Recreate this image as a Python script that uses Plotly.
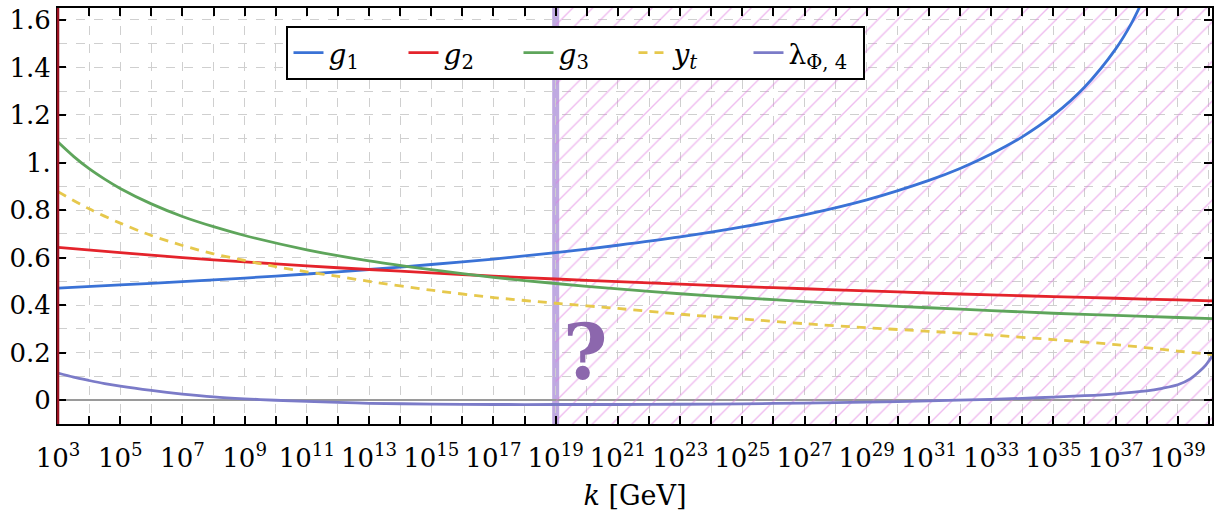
import plotly.graph_objects as go

# ---- data (log10 of k in GeV, coupling values) ----
g1_exp = [3, 5, 7, 9, 11, 13, 15, 17, 19, 21, 23, 25, 27, 29, 31, 32, 33, 34, 35, 36, 37, 37.5, 38]
g1_val = [0.472, 0.485, 0.499, 0.514, 0.531, 0.550, 0.571, 0.594, 0.621, 0.652, 0.687, 0.729, 0.780,
          0.843, 0.925, 0.975, 1.036, 1.108, 1.199, 1.317, 1.477, 1.583, 1.717]

g2_exp = [3, 5, 7, 9, 11, 13, 15, 17, 19, 21, 23, 25, 27, 29, 31, 33, 35, 37, 39, 40.1]
g2_val = [0.643, 0.621, 0.600, 0.582, 0.565, 0.550, 0.536, 0.522, 0.510, 0.499, 0.488, 0.478,
          0.469, 0.460, 0.451, 0.443, 0.436, 0.429, 0.422, 0.418]

g3_exp = [3, 3.5, 4, 4.5, 5, 6, 7, 8, 9, 11, 13, 15, 17, 19, 21, 23, 25, 27, 29, 31, 33, 35, 37, 39, 40.1]
g3_val = [1.086, 1.026, 0.974, 0.930, 0.891, 0.826, 0.773, 0.730, 0.693, 0.633, 0.586, 0.549, 0.517,
          0.491, 0.468, 0.448, 0.431, 0.415, 0.401, 0.389, 0.377, 0.366, 0.357, 0.348, 0.343]

yt_exp = [3, 4, 5, 6, 7, 8, 9, 10, 11, 12, 13, 15, 17, 19, 21, 23, 25, 27, 29, 31, 33, 35, 37, 39, 40.1]
yt_val = [0.877, 0.805, 0.745, 0.693, 0.651, 0.616, 0.588, 0.562, 0.540, 0.521, 0.500, 0.463,
          0.432, 0.408, 0.386, 0.362, 0.342, 0.322, 0.305, 0.290, 0.274, 0.255, 0.234, 0.207, 0.192]

lam_exp = [3, 3.5, 4, 4.5, 5, 6, 7, 8, 9, 10, 11, 12, 13, 15, 17, 19, 21, 23, 25, 27, 29, 31, 33,
           34, 35, 36, 37, 38, 38.5, 39, 39.4, 39.7, 39.9, 40.1]
lam_val = [0.114, 0.097, 0.083, 0.070, 0.059, 0.041, 0.026, 0.014, 0.006, 0.000, -0.005, -0.009,
           -0.013, -0.016, -0.018, -0.018, -0.018, -0.017, -0.015, -0.012, -0.008, -0.003, 0.004,
           0.008, 0.013, 0.019, 0.027, 0.039, 0.050, 0.065, 0.090, 0.122, 0.148, 0.185]

planck_exp = 19
x_range_exp = [3, 40.1]
y_range = [-0.1, 1.65]

x_label_exp = list(range(3, 41, 2))
x_label_text = [f"10<sup>{e}</sup>" for e in x_label_exp]
x_minor_exp = list(range(4, 41, 2))
y_tick_vals = [0, 0.2, 0.4, 0.6, 0.8, 1.0, 1.2, 1.4, 1.6]
y_tick_text = ["0", "0.2", "0.4", "0.6", "0.8", "1.", "1.2", "1.4", "1.6"]

FONT = "DejaVu Serif"


def k(exps):
    return [10.0 ** e for e in exps]


fig = go.Figure()

# hatched region beyond the Planck scale
fig.add_trace(go.Scatter(
    x=k([planck_exp, 41, 41, planck_exp, planck_exp]),
    y=[-0.5, -0.5, 2.0, 2.0, -0.5],
    mode="lines", line=dict(width=0), fill="toself",
    fillcolor="rgba(0,0,0,0)",
    fillpattern=dict(shape="/", fgcolor="#e07ae0", bgcolor="rgba(0,0,0,0)", size=14, solidity=0.1),
    showlegend=False, hoverinfo="skip"))

series = [
    (g1_exp, g1_val, "<i>g</i><sub>1</sub>", "#3a72d6", "solid"),
    (g2_exp, g2_val, "<i>g</i><sub>2</sub>", "#e4232b", "solid"),
    (g3_exp, g3_val, "<i>g</i><sub>3</sub>", "#5ea55b", "solid"),
    (yt_exp, yt_val, "<i>y</i><sub><i>t</i></sub>", "#e6c84c", "9px,7px"),
    (lam_exp, lam_val, "λ<sub>Φ, 4</sub>", "#7b7bc8", "solid"),
]
for ex, val, name, col, dash in series:
    fig.add_trace(go.Scatter(x=k(ex), y=val, mode="lines", name=name,
                             line=dict(color=col, width=2.8, dash=dash, shape="spline", smoothing=0.8)))

# Planck band
fig.add_shape(type="line", xref="x", yref="paper", x0=10 ** planck_exp, x1=10 ** planck_exp,
              y0=0, y1=1, line=dict(color="rgba(170,140,215,0.75)", width=7), layer="between")
# left axis in dark red
fig.add_shape(type="line", xref="paper", yref="paper", x0=0, x1=0, y0=0, y1=1,
              line=dict(color="#9a1020", width=2.5), layer="above")

fig.add_annotation(x=planck_exp + 0.95, y=0.2, xref="x", yref="y", text="<b>?</b>",
                   showarrow=False, font=dict(family=FONT, size=76, color="#8c67ad"),
                   xanchor="center", yanchor="middle")

fig.update_layout(
    width=1222, height=522,
    margin=dict(l=58, r=10, t=5, b=98),
    paper_bgcolor="white", plot_bgcolor="white",
    font=dict(family=FONT, size=26, color="black"),
    legend=dict(orientation="h", x=0.198, y=0.957, xanchor="left", yanchor="top",
                bgcolor="white", bordercolor="black", borderwidth=2,
                font=dict(family=FONT, size=28), entrywidth=70, entrywidthmode="pixels",
                itemwidth=30),
    xaxis=dict(type="log", range=x_range_exp,
               tickvals=k(x_label_exp), ticktext=x_label_text,
               ticks="inside", ticklen=8, tickwidth=2, tickcolor="black",
               showline=True, linecolor="black", linewidth=2, mirror="allticks",
               showgrid=True, gridcolor="#cfcfcf", griddash="dash", gridwidth=1,
               minor=dict(tickvals=k(x_minor_exp), ticks="inside", ticklen=8, tickwidth=2,
                          tickcolor="black", showgrid=True, gridcolor="#cfcfcf",
                          griddash="dash", gridwidth=1),
               tickfont=dict(family=FONT, size=26), ticklabelstandoff=10,
               title=dict(text="<i>k</i> [GeV]", font=dict(family=FONT, size=27), standoff=14)),
    yaxis=dict(range=y_range, tickvals=y_tick_vals, ticktext=y_tick_text,
               ticks="inside", ticklen=8, tickwidth=2, tickcolor="black",
               showline=True, linecolor="black", linewidth=2, mirror="allticks",
               showgrid=True, gridcolor="#cfcfcf", griddash="dash", gridwidth=1,
               zeroline=True, zerolinecolor="#9a9a9a", zerolinewidth=1.5,
               minor=dict(tick0=0, dtick=0.1, showgrid=True, gridcolor="#cfcfcf",
                          griddash="dash", ticklen=0),
               tickfont=dict(family=FONT, size=26)),
)

fig.write_html("out.html")
